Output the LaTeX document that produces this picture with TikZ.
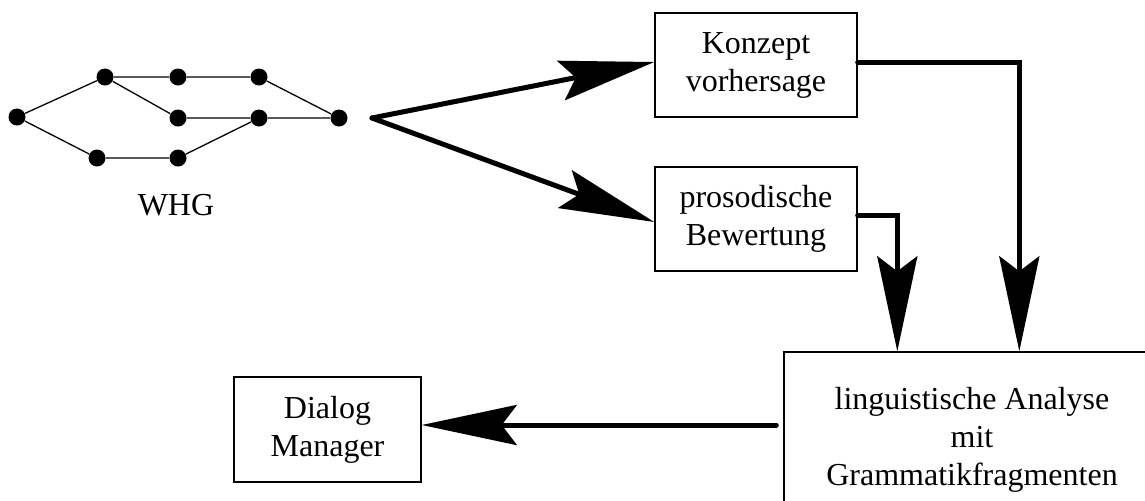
\documentclass[tikz,border=0pt]{standalone}
\usepackage{fontspec}
\setmainfont{Liberation Serif}
\usetikzlibrary{arrows.meta,calc}
\tikzset{
  dot/.style={circle,fill=black,inner sep=0pt,minimum size=8.5pt},
  edge/.style={line width=0.65pt},
  box/.style={draw,line width=0.7pt,inner sep=0pt,align=center,
    font=\fontsize{16pt}{19pt}\selectfont},
  lbl/.style={inner sep=0pt,font=\fontsize{16pt}{19pt}\selectfont},
  bigarrow/.style={line width=2.5pt,line cap=round,line join=miter,
    -{Stealth[length=47.5pt,width=20pt,inset=7.5pt]}}
}
\begin{document}
\begin{tikzpicture}[x=0.5pt,y=-0.5pt]
\useasboundingbox (0,0) rectangle (1145,500);
\clip (0,0) rectangle (1145,500);
% word hypothesis graph
\node[dot] (g1) at (17,117) {};
\node[dot] (g2) at (105,77) {};
\node[dot] (g3) at (178,77) {};
\node[dot] (g4) at (259,77) {};
\node[dot] (g5) at (178,118) {};
\node[dot] (g6) at (259,118) {};
\node[dot] (g7) at (339,118) {};
\node[dot] (g8) at (97,158) {};
\node[dot] (g9) at (178,158) {};
\draw[edge] (g1) -- (g2) -- (g3) -- (g4) -- (g7);
\draw[edge] (g2) -- (g5) -- (g6) -- (g7);
\draw[edge] (g1) -- (g8) -- (g9) -- (g6);
\node[lbl,anchor=base] (whg) at (176,215) {WHG};
% boxes
\node[box,minimum width=101pt,minimum height=52pt] (konzept) at (756,65) {Konzept\\vorhersage};
\node[box,minimum width=101pt,minimum height=52pt] (prosod) at (756,219) {prosodische\\Bewertung};
\node[box,minimum width=188pt,minimum height=88pt] (analyse) at (972,440) {linguistische Analyse\\mit\\Grammatikfragmenten};
\node[box,minimum width=93.5pt,minimum height=52.5pt] (dialog) at (327.5,429.5) {Dialog\\Manager};
% arrows
\coordinate (src) at (372,118);
\draw[bigarrow] (src) -- ($(konzept.west)+(0,-3)$);
\draw[bigarrow] (src) -- ($(prosod.west)+(0,3)$);
\coordinate (kout) at ($(konzept.east)+(0,-3)$);
\coordinate (kin) at ($(analyse.north west)+(236,0)$);
\draw[bigarrow] (kout) -| (kin);
\coordinate (pout) at ($(prosod.east)+(0,-4)$);
\coordinate (pin) at ($(analyse.north west)+(114,0)$);
\draw[bigarrow] (pout) -| (pin);
\coordinate (aout) at ($(analyse.west)+(-7,-15)$);
\draw[bigarrow] (aout) -- (aout -| dialog.east);
\end{tikzpicture}
\end{document}
